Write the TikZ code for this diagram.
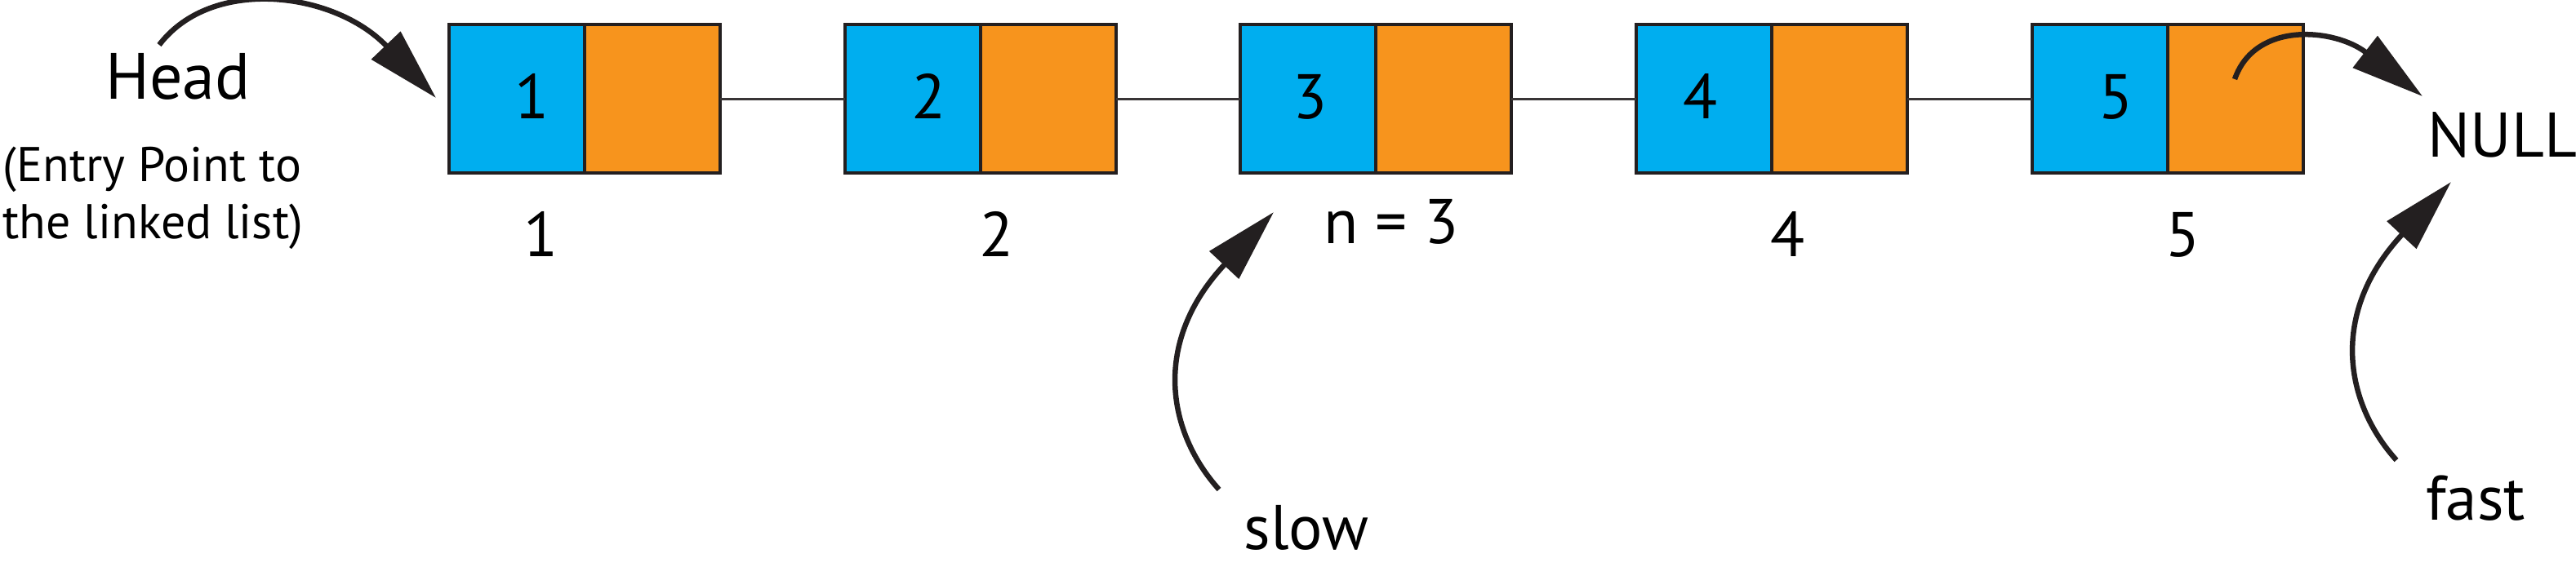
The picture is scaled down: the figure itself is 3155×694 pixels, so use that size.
\documentclass[tikz,border=0pt]{standalone}
\usepackage{fontspec}
\setmainfont{PT Sans}
\usetikzlibrary{arrows.meta}
\definecolor{cblue}{HTML}{00AEEF}
\definecolor{corange}{HTML}{F7941D}
\definecolor{ink}{HTML}{231F20}
\begin{document}
\begin{tikzpicture}[x=0.1mm, y=-0.1mm,
  cell/.style={draw=ink, line width=0.4mm, minimum width=16.6mm, minimum height=18.2mm, inner sep=0pt, outer sep=0pt},
  bluecell/.style={cell, fill=cblue},
  orangecell/.style={cell, fill=corange},
  big/.style={font=\fontsize{22}{26}\selectfont, inner sep=0pt, anchor=base},
  small/.style={font=\fontsize{17}{20}\selectfont, inner sep=0pt, anchor=base west},
  link/.style={draw=ink!90, line width=0.3mm},
  ptr/.style={draw=ink, line width=0.65mm, -{Triangle[length=8.9mm, width=4.8mm]}}
]
\useasboundingbox (0,0) rectangle (3155,694);

% cells
\foreach \i/\x in {1/550, 2/1035, 3/1519, 4/2004, 5/2489} {
  \node[bluecell] (b\i) at (\x+83,121) {};
  \node[orangecell] (o\i) at (\x+249,121) {};
}

% values in cells
\node[big] (v1) at (652,145) {1};
\node[big] (v2) at (1138,145) {2};
\node[big] (v3) at (1605,145) {3};
\node[big] (v4) at (2083,145) {4};
\node[big] (v5) at (2592,145) {5};

% links
\draw[link] (o1.east) -- (b2.west);
\draw[link] (o2.east) -- (b3.west);
\draw[link] (o3.east) -- (b4.west);
\draw[link] (o4.east) -- (b5.west);

% position labels
\node[big] (l1) at (663,314) {1};
\node[big] (l2) at (1221,314) {2};
\node[big] (l3) at (1704,298) {n = 3};
\node[big] (l4) at (2190,314) {4};
\node[big] (l5) at (2674,314) {5};

% texts
\node[big, font=\fontsize{22.8}{27}\selectfont] (head) at (218,121) {Head};
\node[small] (entry1) at (3,222) {(Entry Point to};
\node[small] (entry2) at (3,292) {the linked list)};
\node[big, anchor=base west] (null) at (2973,192) {NULL};
\node[big] (slow) at (1600,673) {slow};
\node[big] (fast) at (3032,637) {fast};

% pointer arrows
\coordinate (headS) at (195,55);
\coordinate (headT) at (534,120);
\draw[ptr] (headS) .. controls (260,-30) and (410,-10) .. (headT);

\coordinate (nullS) at (2737,97);
\coordinate (nullT) at (2967,118);
\draw[ptr] (nullS) .. controls (2762,25) and (2860,35) .. (nullT);

\coordinate (slowS) at (1493,600);
\coordinate (slowT) at (1560,260);
\draw[ptr] (slowS) .. controls (1430,530) and (1410,420) .. (slowT);

\coordinate (fastS) at (2935,564);
\coordinate (fastT) at (3002,223);
\draw[ptr] (fastS) .. controls (2872,494) and (2852,384) .. (fastT);
\end{tikzpicture}
\end{document}
